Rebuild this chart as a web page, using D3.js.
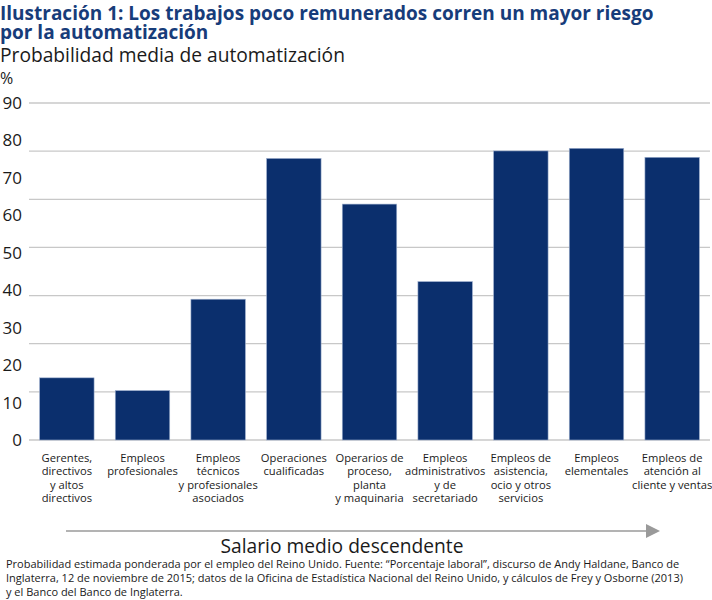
<!DOCTYPE html>
<html>
<head>
<meta charset="utf-8">
<script src="https://cdn.jsdelivr.net/npm/d3@7"></script>
<style>
  body { margin: 0; background: #fff; }
  text { font-family: "Open Sans", "Noto Sans", sans-serif; }
</style>
</head>
<body>
<div class="chart"></div>
<script>
'use strict';

// categories (one entry per line of the label)
var categories = [
  ["Gerentes,", "directivos", "y altos", "directivos"],
  ["Empleos", "profesionales"],
  ["Empleos", "técnicos", "y profesionales", "asociados"],
  ["Operaciones", "cualificadas"],
  ["Operarios de", "proceso,", "planta", "y maquinaria"],
  ["Empleos", "administrativos", "y de", "secretariado"],
  ["Empleos de", "asistencia,", "ocio y otros", "servicios"],
  ["Empleos", "elementales"],
  ["Empleos de", "atención al", "cliente y ventas"]
];
var values = [16.6, 13.2, 37.6, 75.2, 63.0, 42.3, 77.2, 77.9, 75.5];
var tickLabels = [0, 10, 20, 30, 40, 50, 60, 70, 80, 90];
var gridSteps = [0, 1, 2, 3, 4, 5, 6, 7];

var footnote = [
  "Probabilidad estimada ponderada por el empleo del Reino Unido. Fuente: \u201cPorcentaje laboral\u201d, discurso de Andy Haldane, Banco de",
  "Inglaterra, 12 de noviembre de 2015; datos de la Oficina de Estadística Nacional del Reino Unido, y cálculos de Frey y Osborne (2013)",
  "y el Banco del Banco de Inglaterra."
];

var width = 712, height = 600;
var plot = {left: 29, right: 710, top: 103, bottom: 440};

var svg = d3.select(".chart")
            .append("svg")
            .attr("width", width)
            .attr("height", height);

// title
var title = svg.append("text")
               .attr("fill", "#173c7a")
               .attr("font-weight", "bold")
               .attr("font-size", "19px");
title.append("tspan").attr("x", 0).attr("y", 19.5).text("Ilustración 1: Los trabajos poco remunerados corren un mayor riesgo");
title.append("tspan").attr("x", 0).attr("y", 39).text("por la automatización");

svg.append("text")
   .attr("x", 0).attr("y", 62)
   .attr("font-size", "19.2px")
   .attr("fill", "#1a1a1a")
   .text("Probabilidad media de automatización");

svg.append("text")
   .attr("x", 0).attr("y", 84)
   .attr("font-size", "16px")
   .attr("fill", "#1a1a1a")
   .text("%");

var y = d3.scaleLinear().domain([0, 90]).range([plot.bottom, plot.top]);
// gridlines in the original are spaced differently from the labels
var yGrid = d3.scaleLinear().domain([0, 7]).range([plot.bottom, plot.top]);

var x = d3.scaleBand()
          .domain(d3.range(categories.length))
          .range([plot.left, plot.right])
          .paddingInner(0.28)
          .paddingOuter(0.14);

// gridlines
svg.append("g")
   .selectAll("line")
   .data(gridSteps)
   .enter().append("line")
   .attr("x1", plot.left)
   .attr("x2", plot.right)
   .attr("y1", function(d){ return yGrid(d); })
   .attr("y2", function(d){ return yGrid(d); })
   .attr("stroke", "#c8c8c8")
   .attr("stroke-width", 1.3);

// y labels
svg.append("g")
   .selectAll("text")
   .data(tickLabels)
   .enter().append("text")
   .attr("x", 22)
   .attr("y", function(d){ return y(d); })
   .attr("dy", "0.35em")
   .attr("text-anchor", "end")
   .attr("font-size", "17px")
   .attr("fill", "#1a1a1a")
   .text(function(d){ return d; });

// bars
svg.append("g")
   .selectAll("rect")
   .data(values)
   .enter().append("rect")
   .attr("x", function(d, i){ return x(i); })
   .attr("y", function(d){ return y(d); })
   .attr("width", x.bandwidth())
   .attr("height", function(d){ return y(0) - y(d); })
   .attr("fill", "#0b2f6d")
   .attr("stroke", "#9fb0cf")
   .attr("stroke-width", 0.6);

// category labels
var catLabel = svg.append("g")
   .selectAll("text")
   .data(categories)
   .enter().append("text")
   .attr("text-anchor", "middle")
   .attr("font-size", "11.2px")
   .attr("fill", "#1a1a1a")
   .attr("transform", function(d, i){ return "translate(" + (x(i) + x.bandwidth() / 2) + ",462)"; });

catLabel.selectAll("tspan")
   .data(function(d){ return d; })
   .enter().append("tspan")
   .attr("x", 0)
   .attr("y", function(d, i){ return i * 13.3; })
   .text(function(d){ return d; });

// arrow
svg.append("defs").append("marker")
   .attr("id", "arrowhead")
   .attr("viewBox", "0 0 10 10")
   .attr("refX", 0).attr("refY", 5)
   .attr("markerWidth", 14).attr("markerHeight", 14)
   .attr("markerUnits", "userSpaceOnUse")
   .attr("orient", "auto")
   .append("path")
   .attr("d", "M0,0 L10,5 L0,10 Z")
   .attr("fill", "#9a9a9a");

svg.append("line")
   .attr("x1", 66).attr("x2", 646)
   .attr("y1", 531).attr("y2", 531)
   .attr("stroke", "#9a9a9a")
   .attr("stroke-width", 1.6)
   .attr("marker-end", "url(#arrowhead)");

svg.append("text")
   .attr("x", 342).attr("y", 553)
   .attr("text-anchor", "middle")
   .attr("font-size", "19.2px")
   .attr("fill", "#1a1a1a")
   .text("Salario medio descendente");

// footnote
svg.append("g")
   .selectAll("text")
   .data(footnote)
   .enter().append("text")
   .attr("x", 6)
   .attr("y", function(d, i){ return 568 + i * 14; })
   .attr("font-size", "11px")
   .attr("fill", "#1a1a1a")
   .text(function(d){ return d; });
</script>
</body>
</html>
